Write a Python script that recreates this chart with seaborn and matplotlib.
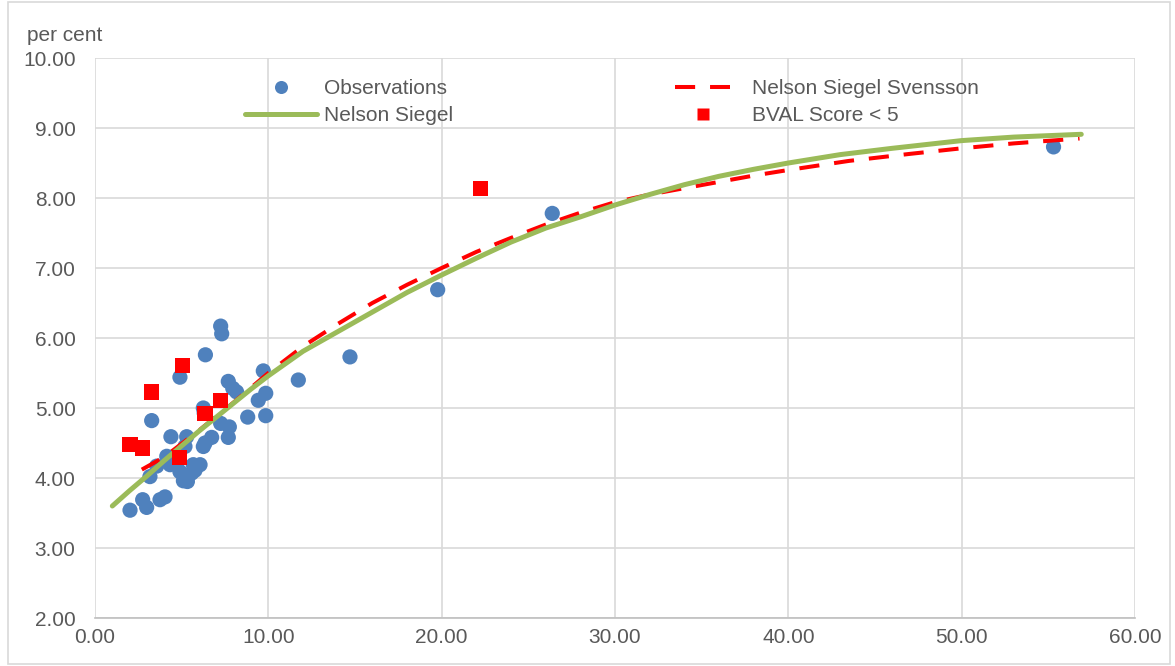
import matplotlib
matplotlib.use("Agg")
import matplotlib.pyplot as plt
import seaborn as sns
import pandas as pd
from matplotlib.lines import Line2D
from matplotlib.patches import Rectangle
from matplotlib.ticker import FormatStrFormatter

# ---------------- data ----------------
obs_x = [7.25, 7.31, 6.37, 4.90, 7.69, 8.17, 9.71, 11.73, 9.42, 9.85,
         3.27, 6.25, 6.30, 7.25, 7.75, 7.69, 8.81, 9.85, 4.38, 5.29,
         5.19, 6.35, 6.73, 6.25, 4.14, 3.56, 4.33, 5.67, 6.06, 5.58,
         5.10, 5.33, 3.17, 2.75, 2.98, 2.02, 3.75, 4.04, 4.71, 4.90,
         5.77, 7.95, 14.71, 19.77, 26.38, 55.30]
obs_y = [6.17, 6.06, 5.76, 5.44, 5.38, 5.23, 5.53, 5.40, 5.11, 5.21,
         4.82, 5.00, 4.93, 4.78, 4.73, 4.58, 4.87, 4.89, 4.59, 4.59,
         4.45, 4.50, 4.58, 4.45, 4.31, 4.17, 4.19, 4.19, 4.19, 4.07,
         3.96, 3.95, 4.02, 3.69, 3.58, 3.54, 3.69, 3.73, 4.21, 4.09,
         4.11, 5.28, 5.73, 6.69, 7.78, 8.73]

bval_x = [5.04, 3.27, 7.25, 6.35, 2.02, 2.75, 4.87, 22.25]
bval_y = [5.61, 5.23, 5.11, 4.92, 4.48, 4.43, 4.29, 8.14]

ns_x = [1.0, 2.0, 3.0, 4.0, 5.0, 6.0, 7.0, 8.0, 9.0, 10.0, 12.0, 14.0,
        16.0, 18.0, 20.0, 22.0, 24.0, 26.0, 28.0, 30.0, 32.0, 34.0, 36.0,
        38.0, 40.0, 43.0, 46.0, 50.0, 53.0, 56.9]
ns_y = [3.60, 3.82, 4.03, 4.25, 4.46, 4.67, 4.87, 5.07, 5.27, 5.46, 5.81,
        6.09, 6.37, 6.65, 6.90, 7.14, 7.37, 7.57, 7.73, 7.90, 8.05, 8.19,
        8.31, 8.41, 8.50, 8.62, 8.71, 8.82, 8.87, 8.91]

nss_x = [2.7, 4.0, 6.0, 8.0, 10.0, 12.0, 14.0, 16.0, 18.0, 20.0, 22.0,
         24.0, 26.0, 28.0, 30.0, 32.0, 34.0, 36.0, 38.0, 40.0, 43.5, 47.0,
         50.0, 53.0, 56.8]
nss_y = [4.12, 4.30, 4.68, 5.08, 5.50, 5.88, 6.20, 6.50, 6.76, 7.00, 7.23,
         7.43, 7.62, 7.79, 7.94, 8.05, 8.14, 8.23, 8.32, 8.40, 8.53, 8.63,
         8.71, 8.78, 8.85]

x_ticks = [0, 10, 20, 30, 40, 50, 60]
y_ticks = [2, 3, 4, 5, 6, 7, 8, 9, 10]

labels_left = ["Observations", "Nelson Siegel"]
labels_right = ["Nelson Siegel Svensson", "BVAL Score < 5"]

# ---------------- styling ----------------
BLUE = "#4F81BD"
GREEN = "#9BBB59"
RED = "#FF0000"
TXT = "#595959"
GRID = "#D9D9D9"
FS = 15
DASH = [5, 3.7]

sns.set_theme(style="white")
plt.rcParams["font.family"] = ["Liberation Sans", "DejaVu Sans"]

fig = plt.figure(figsize=(11.75, 6.66), dpi=100)
ax = fig.add_axes([95 / 1175, 1 - 618 / 666, 1040 / 1175, 560 / 666])

df_obs = pd.DataFrame({"x": obs_x, "y": obs_y})
df_bval = pd.DataFrame({"x": bval_x, "y": bval_y})
df_ns = pd.DataFrame({"x": ns_x, "y": ns_y})
df_nss = pd.DataFrame({"x": nss_x, "y": nss_y})

sns.scatterplot(data=df_obs, x="x", y="y", ax=ax, color=BLUE, s=120,
                marker="o", edgecolor="none", zorder=3, legend=False)
sns.lineplot(data=df_nss, x="x", y="y", ax=ax, color=RED, sort=False,
             estimator=None, linewidth=2.9, zorder=4, legend=False)
ax.lines[-1].set_dashes(DASH)
sns.lineplot(data=df_ns, x="x", y="y", ax=ax, color=GREEN, sort=False,
             estimator=None, linewidth=3.6, zorder=5, legend=False)
sns.scatterplot(data=df_bval, x="x", y="y", ax=ax, color=RED, s=120,
                marker="s", edgecolor="none", zorder=6, legend=False)

ax.set_xlim(0, 60)
ax.set_ylim(2, 10)
ax.set_xticks(x_ticks)
ax.set_yticks(y_ticks)
ax.xaxis.set_major_formatter(FormatStrFormatter("%.2f"))
ax.yaxis.set_major_formatter(FormatStrFormatter("%.2f"))
ax.grid(True, color=GRID, linewidth=1.2, zorder=0)
ax.set_axisbelow(True)
for s in ["top", "right", "left"]:
    ax.spines[s].set_visible(False)
ax.spines["bottom"].set_color("#BFBFBF")
ax.spines["bottom"].set_linewidth(1.2)
ax.tick_params(axis="both", length=0, labelsize=FS, colors=TXT)
ax.tick_params(axis="y", pad=14)
ax.tick_params(axis="x", pad=7)
ax.set_xlabel("")
ax.set_ylabel("")

fig.text(27 / 1175, 1 - 41 / 666, "per cent", fontsize=FS, color=TXT,
         ha="left", va="baseline")

h_left = [
    Line2D([], [], linestyle="none", marker="o", markersize=9.4,
           markerfacecolor=BLUE, markeredgecolor="none"),
    Line2D([], [], color=GREEN, linewidth=3.6),
]
h_right = [
    Line2D([], [], color=RED, linewidth=2.9, dashes=DASH),
    Line2D([], [], linestyle="none", marker="s", markersize=9,
           markerfacecolor=RED, markeredgecolor="none"),
]
fs_px = FS * 100 / 72
yc = (618 - 102) / 560
leg1 = ax.legend(h_left, labels_left, loc="center left",
                 bbox_to_anchor=((245 - 95) / 1040, yc),
                 frameon=False, fontsize=FS, handlelength=72 / fs_px,
                 handletextpad=7 / fs_px, labelspacing=0.4,
                 borderpad=0, borderaxespad=0)
for t in leg1.get_texts():
    t.set_color(TXT)
ax.add_artist(leg1)
leg2 = ax.legend(h_right, labels_right, loc="center left",
                 bbox_to_anchor=((675 - 95) / 1040, yc),
                 frameon=False, fontsize=FS, handlelength=55 / fs_px,
                 handletextpad=22 / fs_px, labelspacing=0.4,
                 borderpad=0, borderaxespad=0)
for t in leg2.get_texts():
    t.set_color(TXT)

fig.patches.append(Rectangle((8 / 1175, 2 / 666), 1162 / 1175, 662 / 666,
                             transform=fig.transFigure, fill=False,
                             edgecolor="#D9D9D9", linewidth=1.2))

fig.savefig("out.png", dpi=100)
